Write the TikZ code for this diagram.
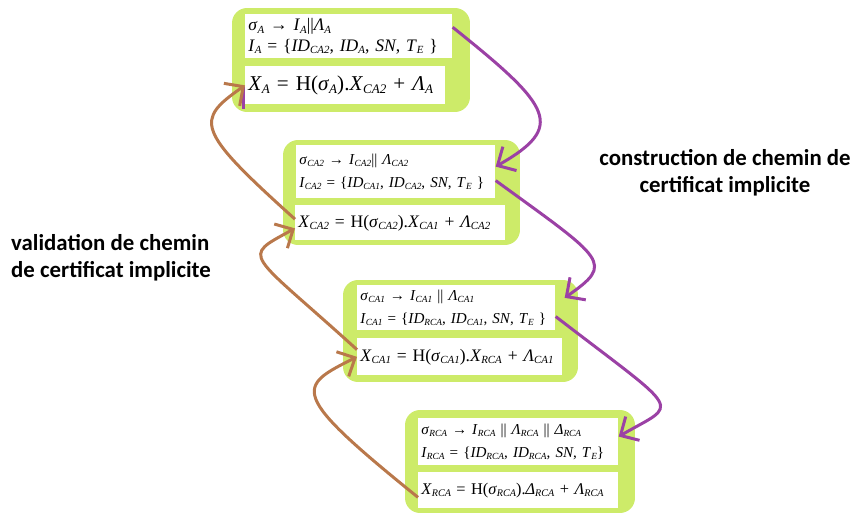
\documentclass[tikz,border=0pt]{standalone}
\usepackage{fontspec}
\setmainfont{Liberation Serif}
\newfontfamily\labelfont{Carlito}
\usetikzlibrary{arrows.meta,calc}

\definecolor{boxgreen}{RGB}{205,235,105}
\definecolor{pathpurple}{RGB}{155,65,165}
\definecolor{pathbrown}{RGB}{185,120,75}
\makeatletter
\newcommand{\sbi}[2]{\textit{#1}\raisebox{-0.35ex}{\fontsize{\fpeval{0.62*\f@size}}{1}\selectfont\textit{#2}}}
\makeatother

\begin{document}
\begin{tikzpicture}[x=0.02cm,y=-0.02cm,
  greenbox/.style={fill=boxgreen, rounded corners=0.3cm, inner sep=0pt},
  idbox/.style={fill=white, anchor=north west, inner xsep=0.06cm, inner ysep=0pt, align=left, font=\fontsize{8.6}{13}\selectfont},
  xbox/.style={fill=white, anchor=north west, inner xsep=0.06cm, inner ysep=0pt, align=left, font=\fontsize{10}{12}\selectfont},
  build/.style={draw=pathpurple, line width=0.06cm, -{Straight Barb[length=2.8mm,width=5.5mm]}},
  check/.style={draw=pathbrown, line width=0.06cm, -{Straight Barb[length=2.8mm,width=5.5mm]}},
  note/.style={font=\labelfont\bfseries\fontsize{13}{15.5}\selectfont}
]
\useasboundingbox (0,0) rectangle (854,520);

% Box A
\node[greenbox, minimum width=4.76cm, minimum height=2.08cm] (boxA) at (351,60) {};
\node[idbox, text width=4.02cm, minimum height=0.88cm, font=\fontsize{10}{11.5}\selectfont] (idA) at (245,14)
  {\sbi{σ}{A} → \sbi{I}{A}||\sbi{Λ}{A}\\
   \sbi{I}{A} = \{\sbi{ID}{CA2}, \sbi{ID}{A}, \textit{SN}, \sbi{T}{E}~\}};
\node[xbox, text width=3.88cm, minimum height=0.76cm, font=\fontsize{12}{14}\selectfont] (xA) at (245,66)
  {\sbi{X}{A} = H(\sbi{σ}{A}).\sbi{X}{CA2} + \sbi{Λ}{A}};

% Box CA2
\node[greenbox, minimum width=4.74cm, minimum height=2.1cm] (boxCA2) at (401.5,192.5) {};
\node[idbox, text width=3.86cm, minimum height=1.06cm] (idCA2) at (296,145)
  {\sbi{σ}{CA2} → \sbi{I}{CA2}|| \sbi{Λ}{CA2}\\
   \sbi{I}{CA2} = \{\sbi{ID}{CA1}, \sbi{ID}{CA2}, \textit{SN}, \sbi{T}{E}~\}};
\node[xbox, text width=4.08cm, minimum height=0.7cm] (xCA2) at (295,205)
  {\sbi{X}{CA2} = H(\sbi{σ}{CA2}).\sbi{X}{CA1} + \sbi{Λ}{CA2}};

% Box CA1
\node[greenbox, minimum width=4.7cm, minimum height=2.04cm] (boxCA1) at (460.5,331) {};
\node[idbox, text width=3.84cm, minimum height=0.9cm] (idCA1) at (357,285)
  {\sbi{σ}{CA1} → \sbi{I}{CA1} || \sbi{Λ}{CA1}\\
   \sbi{I}{CA1} = \{\sbi{ID}{RCA}, \sbi{ID}{CA1}, \textit{SN}, \sbi{T}{E}~\}};
\node[xbox, text width=3.98cm, minimum height=0.74cm] (xCA1) at (357,338)
  {\sbi{X}{CA1} = H(\sbi{σ}{CA1}).\sbi{X}{RCA} + \sbi{Λ}{CA1}};

% Box RCA
\node[greenbox, minimum width=4.6cm, minimum height=2.06cm] (boxRCA) at (520,461.5) {};
\node[idbox, text width=3.88cm, minimum height=0.94cm] (idRCA) at (418,418)
  {\sbi{σ}{RCA} → \sbi{I}{RCA} || \sbi{Λ}{RCA} || \sbi{Δ}{RCA}\\
   \sbi{I}{RCA} = \{\sbi{ID}{RCA}, \sbi{ID}{RCA}, \textit{SN}, \sbi{T}{E}\}};
\node[xbox, text width=3.88cm, minimum height=0.72cm, font=\fontsize{9.3}{12}\selectfont] (xRCA) at (418,472)
  {\sbi{X}{RCA} = H(\sbi{σ}{RCA}).\sbi{Δ}{RCA} + \sbi{Λ}{RCA}};

% Construction (purple)
\draw[build] (idA.5) .. controls +(100,80) and +(70,-40) .. (idCA2.3);
\draw[build] (idCA2.-5) .. controls +(110,80) and +(50,-35) .. ($(idCA1.east)+(9,-10)$);
\draw[build] (idCA1.-5) .. controls +(130,100) and +(60,-35) .. (idRCA.3);
\draw[pathpurple, line width=0.06cm] ($(xA.south west)+(-2,4)$) -- ++(0,-22);

% Validation (brown)
\draw[check] (xCA2.178) .. controls +(-100,-90) and +(-50,35) .. (xA.west);
\draw[check] (xCA1.176) .. controls +(-110,-100) and +(-55,30) .. (xCA2.183);
\draw[check] (xRCA.184) .. controls +(-130,-105) and +(-60,30) .. (xCA1.west);

% Labels
\node[note, align=center] (buildnote) at (725,173) {construction de chemin de\\certificat implicite};
\node[note, align=left, anchor=west] (checknote) at (5,258) {validation de chemin\\de certificat implicite};
\end{tikzpicture}
\end{document}
